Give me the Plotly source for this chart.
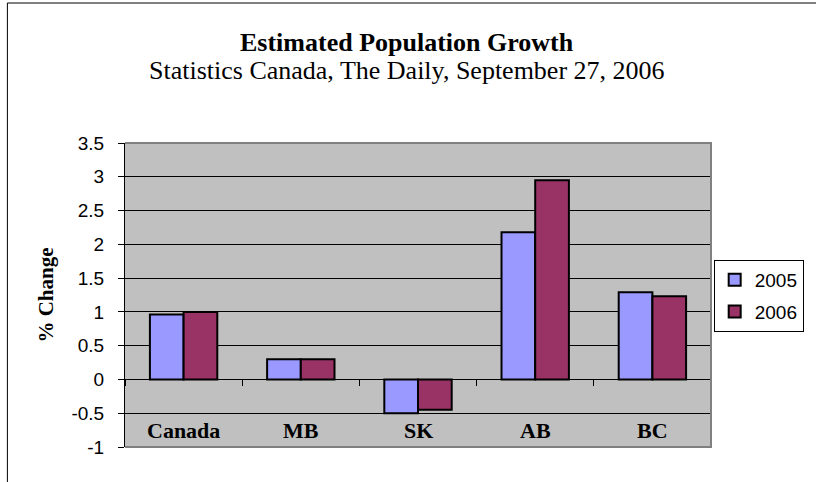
import plotly.graph_objects as go

categories = ["Canada", "MB", "SK", "AB", "BC"]
series_names = ["2005", "2006"]
values_2005 = [0.96, 0.30, -0.50, 2.18, 1.29]
values_2006 = [1.00, 0.30, -0.45, 2.95, 1.23]
y_tickvals = [-1, -0.5, 0, 0.5, 1, 1.5, 2, 2.5, 3, 3.5]
y_ticktext = ["-1", "-0.5", "0", "0.5", "1", "1.5", "2", "2.5", "3", "3.5"]
title_text = "Estimated Population Growth"
subtitle_text = "Statistics Canada, The Daily, September 27, 2006"
y_title = "% Change"
colors = ["#9999FF", "#993366"]

W, H = 816, 482
ML, MR, MT, MB = 125, 103, 143, 35
PW = W - ML - MR
PH = H - MT - MB
Y_MIN, Y_MAX = -1, 3.5

def px_to_paper_x(px):
    return (px - ML) / PW

def px_to_paper_y(py):
    return (H - MB - py) / PH

serif = "Liberation Serif"
sans = "Liberation Sans"

fig = go.Figure()
for i, (name, vals) in enumerate(zip(series_names, [values_2005, values_2006])):
    fig.add_trace(go.Bar(
        x=categories, y=vals, name=name,
        marker=dict(color=colors[i], line=dict(color="black", width=2)),
        legendgroup=name,
    ))

annotations = []
for c in categories:
    annotations.append(dict(x=c, y=-0.75, xref="x", yref="y", text="<b>%s</b>" % c,
                            showarrow=False, yanchor="middle",
                            font=dict(family=serif, size=22, color="black")))
annotations.append(dict(x=px_to_paper_x(408), y=px_to_paper_y(42), xref="paper", yref="paper",
                        text="<b>%s</b>" % title_text, showarrow=False, yanchor="middle",
                        font=dict(family=serif, size=26, color="black")))
annotations.append(dict(x=px_to_paper_x(408), y=px_to_paper_y(71), xref="paper", yref="paper",
                        text=subtitle_text, showarrow=False, yanchor="middle",
                        font=dict(family=serif, size=26, color="black")))

shapes = [
    # outer chart frame (right/bottom edges fall outside the picture)
    dict(type="rect", xref="paper", yref="paper",
         x0=px_to_paper_x(7), x1=px_to_paper_x(W + 20),
         y0=px_to_paper_y(H + 20), y1=px_to_paper_y(3),
         line=dict(color="black", width=1), fillcolor="rgba(0,0,0,0)", layer="below"),
    # plot area border (top, right, bottom)
    dict(type="path", xref="paper", yref="paper",
         path="M 0,1 L 1,1 L 1,0 L 0,0",
         line=dict(color="#808080", width=2), layer="above"),
]

fig.update_layout(
    width=W, height=H,
    margin=dict(l=ML, r=MR, t=MT, b=MB, pad=0),
    paper_bgcolor="white", plot_bgcolor="#C0C0C0",
    barmode="group", bargap=0.425, bargroupgap=0,
    showlegend=True,
    legend=dict(x=px_to_paper_x(806), y=px_to_paper_y(260), xanchor="right", yanchor="top",
                bordercolor="black", borderwidth=1, bgcolor="white",
                font=dict(family=sans, size=19, color="black"),
                traceorder="grouped", tracegroupgap=4),
    xaxis=dict(type="category", anchor="free",
               position=(0 - Y_MIN) / (Y_MAX - Y_MIN),
               showline=True, linecolor="black", linewidth=1,
               ticks="outside", ticklen=6, tickcolor="black", tickwidth=1,
               tickson="boundaries", showgrid=False, showticklabels=False,
               zeroline=False, range=[-0.5, len(categories) - 0.5]),
    yaxis=dict(range=[Y_MIN, Y_MAX], domain=[0, 1],
               tickvals=y_tickvals, ticktext=y_ticktext,
               showline=True, linecolor="black", linewidth=1,
               ticks="outside", ticklen=6, tickcolor="black",
               showgrid=True, gridcolor="black", gridwidth=1, zeroline=False,
               tickfont=dict(family=sans, size=19, color="black"),
               ticklabelstandoff=10,
               title=dict(text="<b>%s</b>" % y_title, standoff=12,
                          font=dict(family=serif, size=21, color="black"))),
    annotations=annotations,
    shapes=shapes,
)

fig.write_html("out.html", config={"displayModeBar": False},
               post_script="document.body.style.margin='0';document.body.style.padding='0';")
